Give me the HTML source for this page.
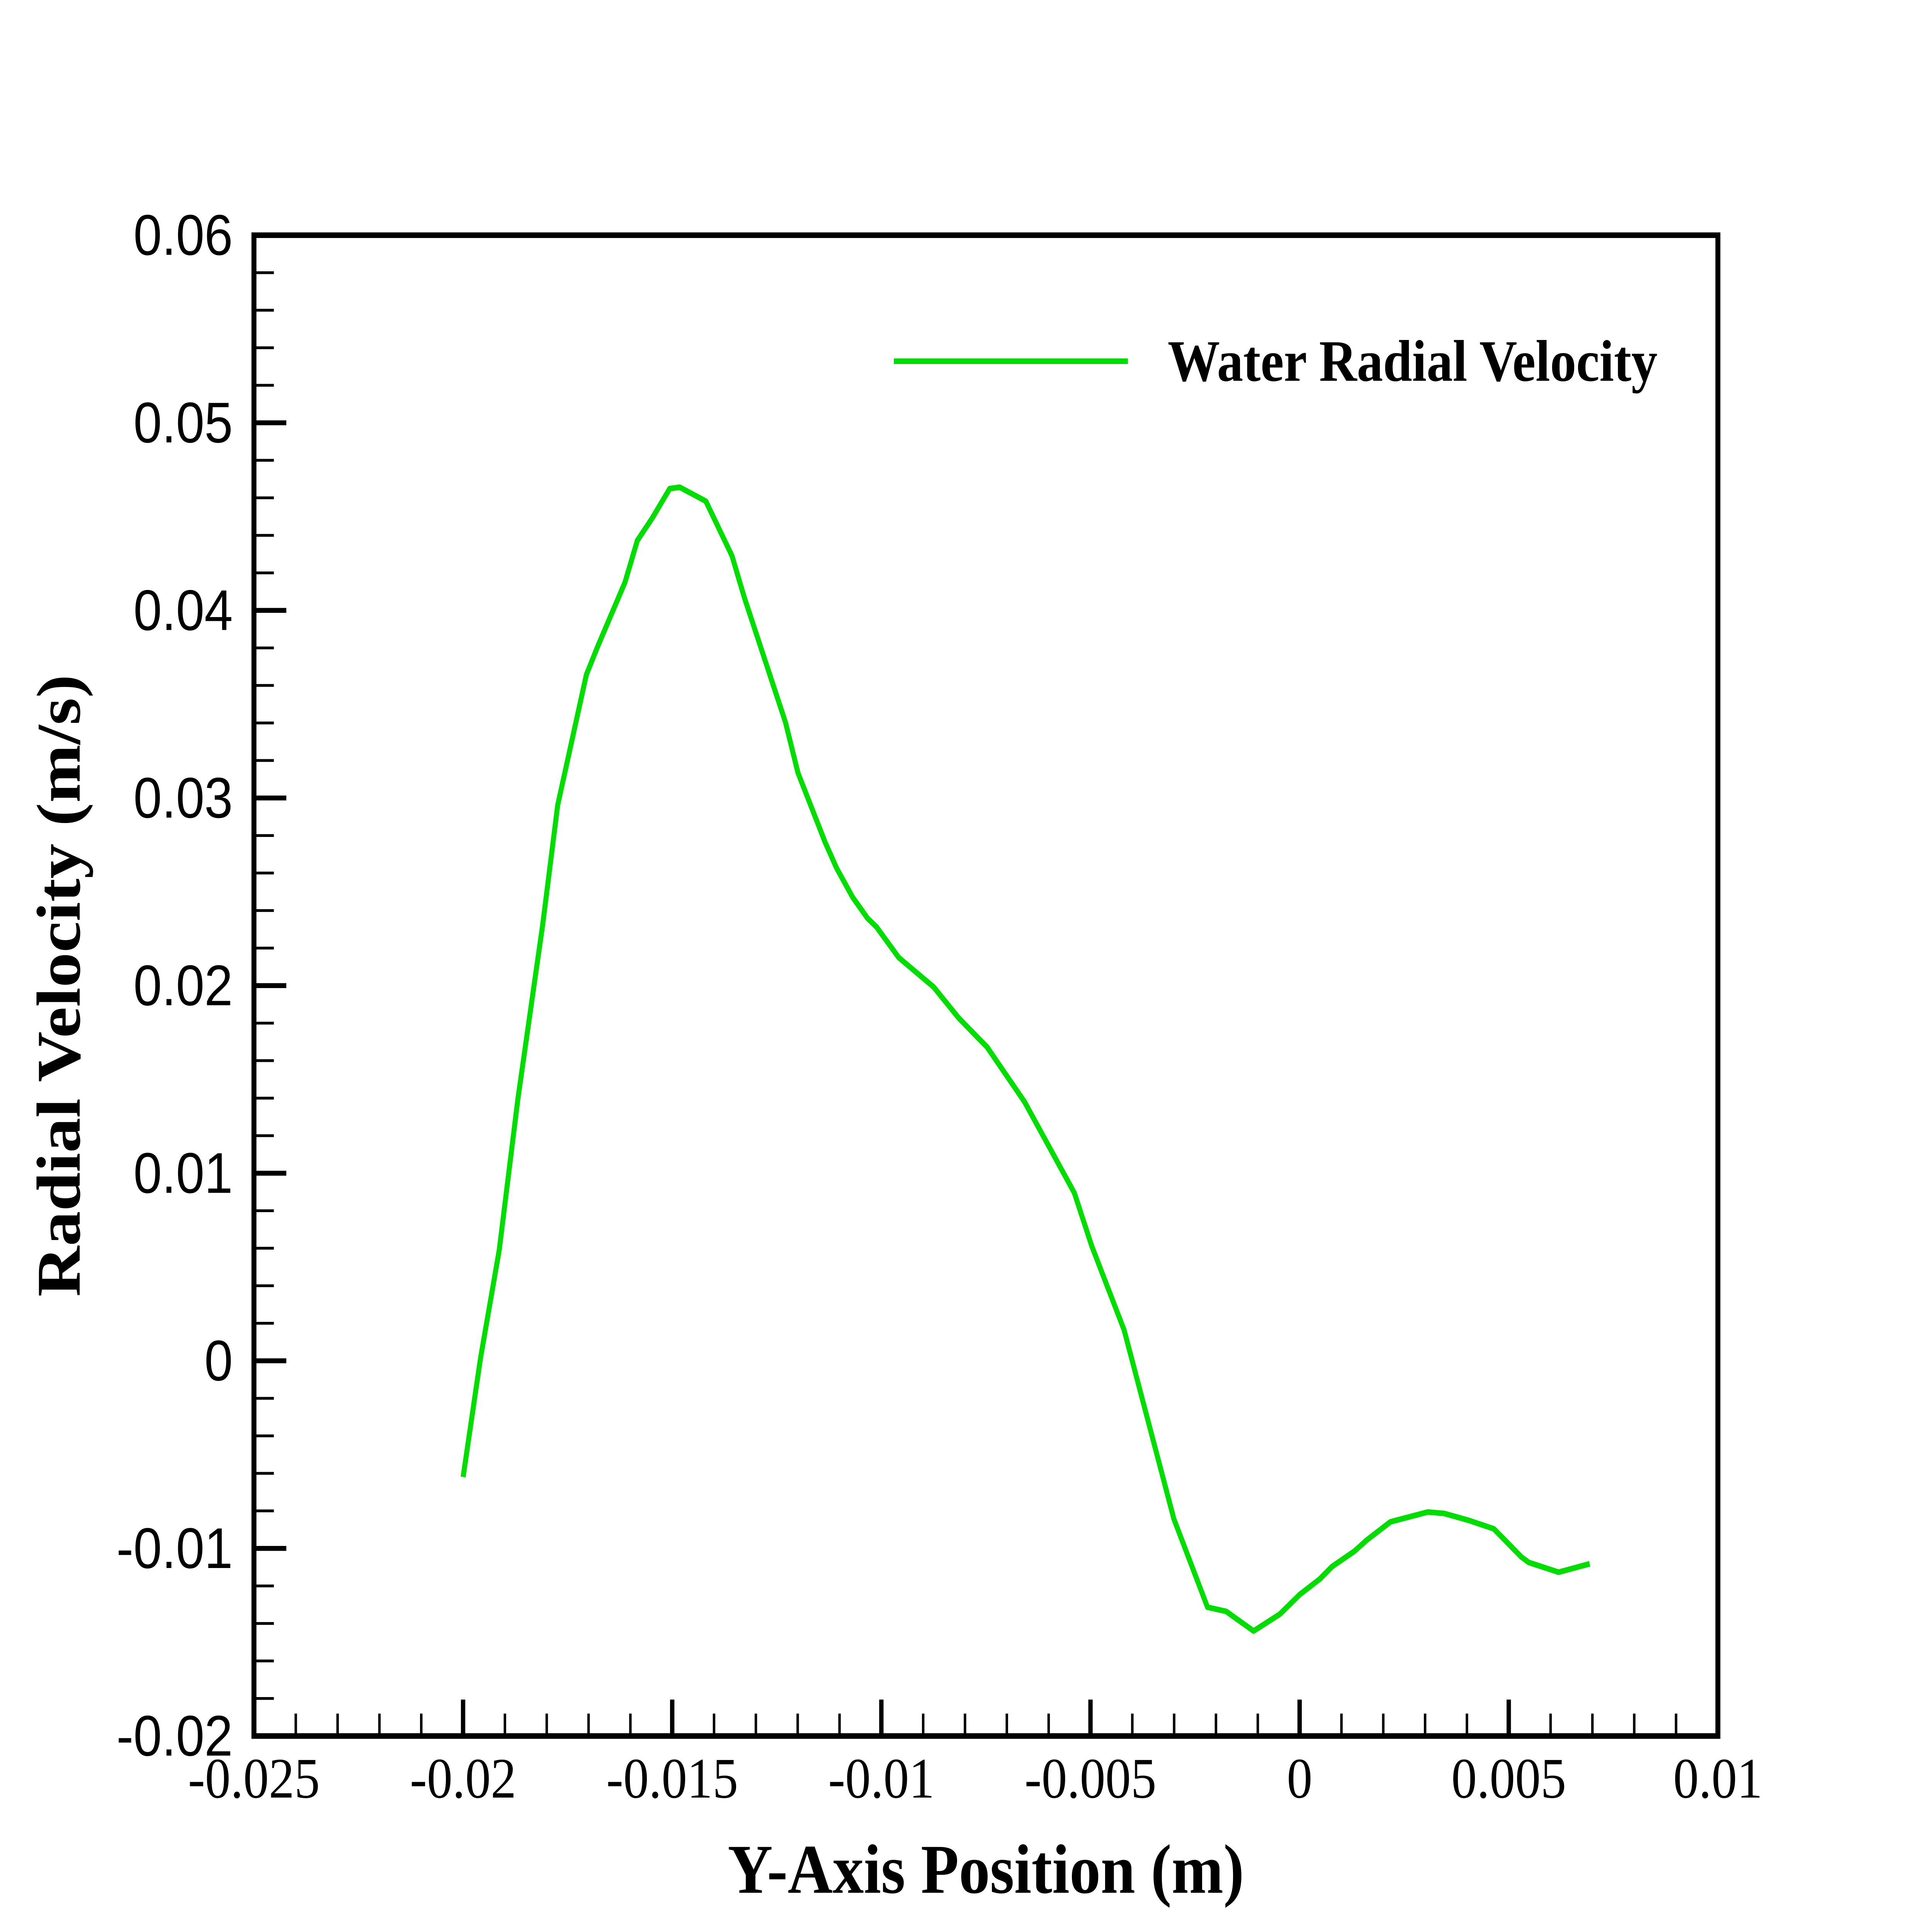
<!DOCTYPE html>
<html><head><meta charset="utf-8"><style>
html,body{margin:0;padding:0;background:#fff;width:100%;height:100%;overflow:hidden;}
svg{display:block;position:absolute;left:0;top:0;width:100vw;height:100vh;}
</style></head><body>
<svg viewBox="0 0 1552 1380" preserveAspectRatio="none" xmlns="http://www.w3.org/2000/svg">
<rect x="0" y="0" width="1552" height="1380" fill="#fff"/>
<g stroke="#000" stroke-width="2">
<path d="M204 194.8h16M204 221.6h16M204 248.4h16M204 275.2h16M204 328.8h16M204 355.6h16M204 382.4h16M204 409.2h16M204 462.8h16M204 489.6h16M204 516.4h16M204 543.2h16M204 596.8h16M204 623.6h16M204 650.4h16M204 677.2h16M204 730.8h16M204 757.6h16M204 784.4h16M204 811.2h16M204 864.8h16M204 891.6h16M204 918.4h16M204 945.2h16M204 998.8h16M204 1025.6h16M204 1052.4h16M204 1079.2h16M204 1132.8h16M204 1159.6h16M204 1186.4h16M204 1213.2h16"/>
<path d="M237.6 1240v-16M271.2 1240v-16M304.8 1240v-16M338.4 1240v-16M405.6 1240v-16M439.2 1240v-16M472.8 1240v-16M506.4 1240v-16M573.6 1240v-16M607.2 1240v-16M640.8 1240v-16M674.4 1240v-16M741.6 1240v-16M775.2 1240v-16M808.8 1240v-16M842.4 1240v-16M909.6 1240v-16M943.2 1240v-16M976.8 1240v-16M1010.4 1240v-16M1077.6 1240v-16M1111.2 1240v-16M1144.8 1240v-16M1178.4 1240v-16M1245.6 1240v-16M1279.2 1240v-16M1312.8 1240v-16M1346.4 1240v-16"/>
</g>
<g stroke="#000" stroke-width="3.5">
<path d="M204 302h26M204 436h26M204 570h26M204 704h26M204 838h26M204 972h26M204 1106h26"/>
<path d="M372 1240v-26M540 1240v-26M708 1240v-26M876 1240v-26M1044 1240v-26M1212 1240v-26"/>
</g>
<rect x="204" y="168" width="1176" height="1072" fill="none" stroke="#000" stroke-width="4"/>
<polyline fill="none" stroke="#00dd00" stroke-width="4" stroke-linejoin="round" points="372,1055 386,970 401,893 416,785 436,660 448,575 471,482 480,462 502,416 512,386 524,370 538,349 546,348 567,358 588,397 598,427 631,516 641,552 663,602 672,620 685,641 697,656 704,662 722,684 750,705 770,727 793,748 823,787 863,852 877,890 903,950 943,1085 970,1148 985,1151 1007,1165 1028,1153 1044,1139 1060,1128 1070,1119 1088,1108 1098,1100 1117,1087 1147,1080 1160,1081 1180,1086 1200,1092 1222,1112 1228,1116 1252,1123 1277,1117"/>
<line x1="718" y1="258" x2="906" y2="258" stroke="#00dd00" stroke-width="4"/>
<text x="938" y="272" font-family="'Liberation Serif', serif" font-weight="bold" font-size="42">Water Radial Velocity</text>
<g font-family="'Liberation Sans', sans-serif" font-size="41" text-anchor="end">
<text x="187" y="182">0.06</text>
<text x="187" y="316">0.05</text>
<text x="187" y="450">0.04</text>
<text x="187" y="584">0.03</text>
<text x="187" y="718">0.02</text>
<text x="187" y="852">0.01</text>
<text x="187" y="986">0</text>
<text x="187" y="1120">-0.01</text>
<text x="187" y="1254">-0.02</text>
</g>
<g font-family="'Liberation Serif', serif" font-size="41" text-anchor="middle">
<text x="204" y="1284">-0.025</text>
<text x="372" y="1284">-0.02</text>
<text x="540" y="1284">-0.015</text>
<text x="708" y="1284">-0.01</text>
<text x="876" y="1284">-0.005</text>
<text x="1044" y="1284">0</text>
<text x="1212" y="1284">0.005</text>
<text x="1380" y="1284">0.01</text>
</g>
<text x="792" y="1352" text-anchor="middle" font-family="'Liberation Serif', serif" font-weight="bold" font-size="50">Y-Axis Position (m)</text>
<text transform="translate(64,704) rotate(-90)" text-anchor="middle" font-family="'Liberation Serif', serif" font-weight="bold" font-size="50">Radial Velocity (m/s)</text>
</svg>
</body></html>
